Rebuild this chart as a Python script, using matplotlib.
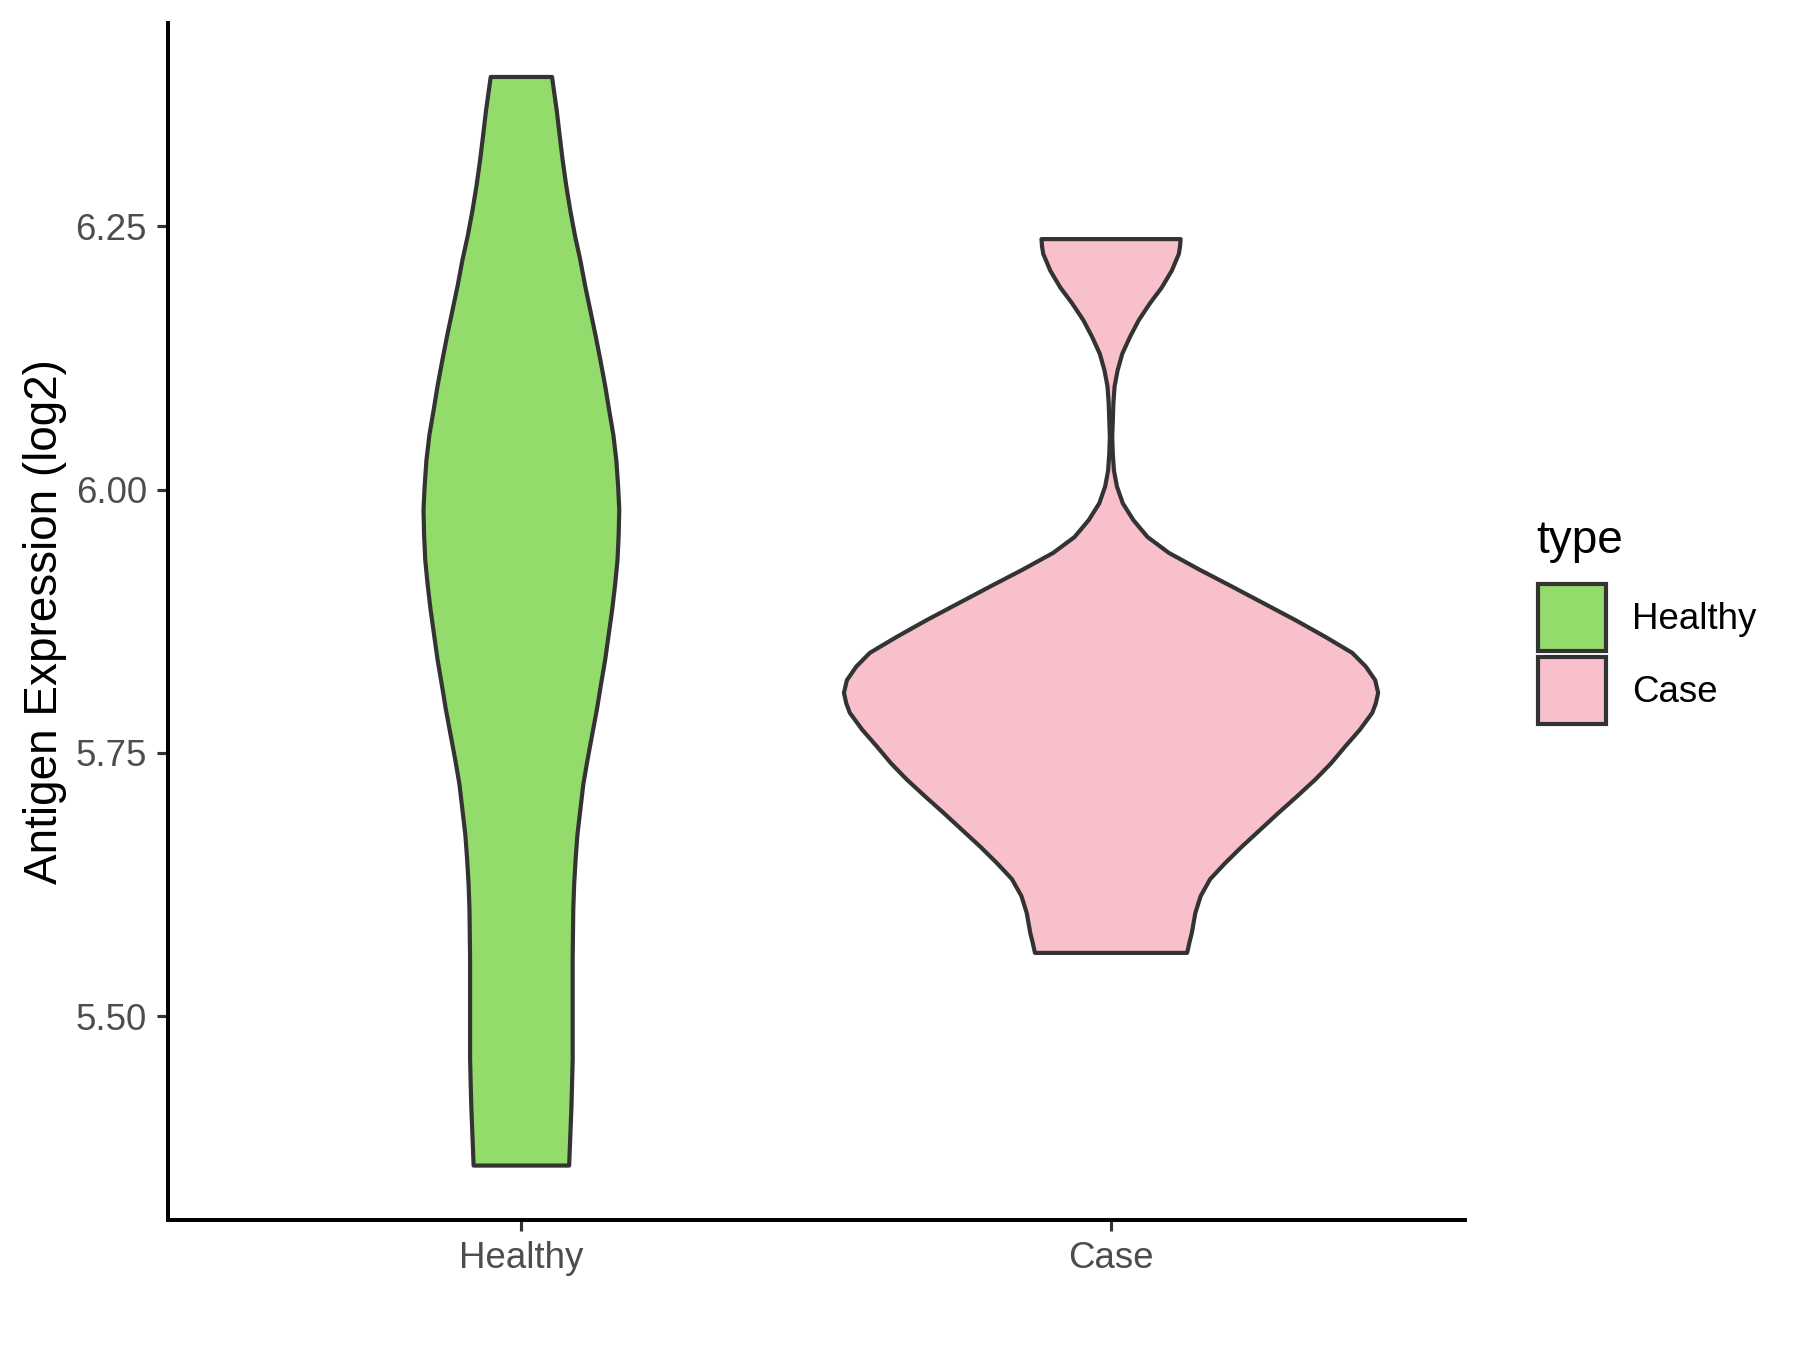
import numpy as np
import matplotlib.pyplot as plt
from matplotlib.patches import Patch

plt.rcParams['font.family'] = ['Liberation Sans', 'DejaVu Sans']

categories = ['Healthy', 'Case']
colors = ['#93DB6A', '#F7C0CB']
edge = '#333333'

# contur violina: nivel (log2) si semi-latime (unitati de categorie)
healthy_y = [5.358, 5.415, 5.459, 5.506, 5.554, 5.601, 5.625, 5.649, 5.672, 5.696, 5.720,
             5.743, 5.767, 5.791, 5.815, 5.838, 5.862, 5.886, 5.910, 5.933, 5.957, 5.981,
             6.004, 6.028, 6.052, 6.075, 6.099, 6.123, 6.146, 6.170, 6.194, 6.218, 6.241,
             6.265, 6.289, 6.313, 6.336, 6.360, 6.376, 6.392]
healthy_hw = [0.081, 0.085, 0.087, 0.087, 0.087, 0.088, 0.0895, 0.092, 0.095, 0.100, 0.105,
              0.112, 0.120, 0.128, 0.135, 0.142, 0.148, 0.154, 0.159, 0.163, 0.165, 0.166,
              0.164, 0.161, 0.156, 0.149, 0.142, 0.134, 0.126, 0.117, 0.108, 0.100, 0.091,
              0.083, 0.076, 0.070, 0.065, 0.060, 0.056, 0.052]

case_y = [5.560, 5.570, 5.579, 5.598, 5.614, 5.630, 5.645, 5.661, 5.677, 5.693, 5.709,
          5.725, 5.740, 5.756, 5.772, 5.788, 5.797, 5.807, 5.819, 5.832, 5.845, 5.860,
          5.876, 5.892, 5.908, 5.924, 5.940, 5.955, 5.971, 5.987, 6.003, 6.018, 6.034,
          6.050, 6.066, 6.082, 6.098, 6.113, 6.129, 6.145, 6.161, 6.177, 6.192, 6.208,
          6.224, 6.231, 6.238]
case_hw = [0.129, 0.133, 0.137, 0.143, 0.152, 0.168, 0.193, 0.222, 0.253, 0.284, 0.316,
           0.347, 0.373, 0.397, 0.422, 0.443, 0.449, 0.453, 0.448, 0.432, 0.409, 0.364,
           0.313, 0.259, 0.205, 0.150, 0.098, 0.062, 0.038, 0.020, 0.010, 0.005, 0.003,
           0.002, 0.003, 0.004, 0.006, 0.011, 0.019, 0.032, 0.047, 0.066, 0.086, 0.103,
           0.115, 0.117, 0.118]

yticks = [5.50, 5.75, 6.00, 6.25]


def violin(ax, pos, y, hw, color):
    y = np.array(y)
    hw = np.array(hw)
    xs = np.concatenate([pos - hw, (pos + hw)[::-1]])
    ys = np.concatenate([y, y[::-1]])
    ax.fill(xs, ys, facecolor=color, edgecolor=edge, linewidth=2.0, joinstyle='round', zorder=3)


fig = plt.figure(figsize=(12, 9), dpi=150)
ax = fig.add_axes([0.0931, 0.0963, 0.7207, 0.887])

violin(ax, 1, healthy_y, healthy_hw, colors[0])
violin(ax, 2, case_y, case_hw, colors[1])

lo = min(healthy_y + case_y)
hi = max(healthy_y + case_y)
pad = (hi - lo) * 0.05
ax.set_ylim(lo - pad, hi + pad)
ax.set_xlim(0.4, 2.6)

ax.set_xticks([1, 2])
ax.set_xticklabels(categories)
ax.set_yticks(yticks)
ax.set_yticklabels([f'{t:.2f}' for t in yticks])
ax.tick_params(axis='both', length=5.5, width=1.5, color=edge, labelcolor='#4D4D4D',
               labelsize=17.6, pad=4.4)
for s in ['top', 'right']:
    ax.spines[s].set_visible(False)
for s in ['left', 'bottom']:
    ax.spines[s].set_linewidth(1.9)
    ax.spines[s].set_color('black')

ax.set_ylabel('Antigen Expression (log2)', fontsize=22, labelpad=4)

# legenda
handles = [Patch(facecolor=c, edgecolor=edge, linewidth=2.0) for c in colors]
fig.legend(handles, categories, loc='upper left', bbox_to_anchor=(0.8544, 0.5674),
           frameon=False, fontsize=17.6, handlelength=1.85, handleheight=2.45,
           labelspacing=0.15, handletextpad=0.72, borderpad=0, borderaxespad=0)
fig.text(0.8533, 0.599, 'type', fontsize=22, va='center', ha='left')

fig.savefig('out.png', dpi=150)
